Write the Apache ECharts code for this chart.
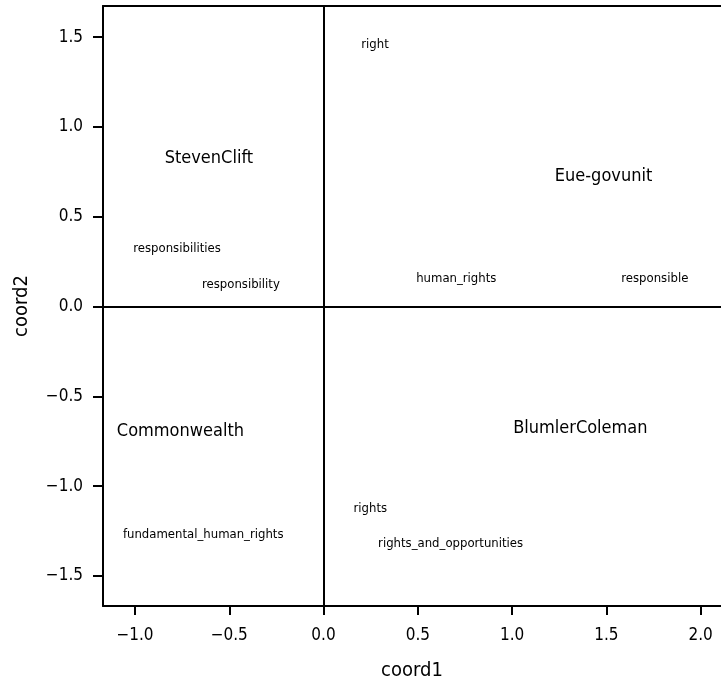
<!DOCTYPE html>
<html>
<head>
<meta charset="utf-8">
<script src="https://cdn.jsdelivr.net/npm/echarts@6/dist/echarts.min.js"></script>
<style>
html,body{margin:0;padding:0;background:#fff;}
#chart{width:721px;height:682px;}
</style>
</head>
<body>
<div id="chart"></div>
<script>
const docLabels = ['StevenClift', 'Eue-govunit', 'Commonwealth', 'BlumlerColeman'];
const docX = [-0.608, 1.485, -0.759, 1.362];
const docY = [0.828, 0.724, -0.696, -0.677];

const termLabels = ['right', 'responsibilities', 'responsibility', 'human_rights', 'responsible', 'rights', 'fundamental_human_rights', 'rights_and_opportunities'];
const termX = [0.273, -0.777, -0.438, 0.704, 1.757, 0.248, -0.638, 0.674];
const termY = [1.457, 0.321, 0.121, 0.158, 0.158, -1.126, -1.267, -1.318];

const xTicks = [-1.0, -0.5, 0.0, 0.5, 1.0, 1.5, 2.0];
const yTicks = [-1.5, -1.0, -0.5, 0.0, 0.5, 1.0, 1.5];

const FONT = '"Liberation Sans Narrow", "DejaVu Sans Condensed", sans-serif';
const fmt = v => (v < 0 ? '\u2212' : '') + Math.abs(v).toFixed(1);

const docData = docLabels.map((n, i) => ({ name: n, value: [docX[i], docY[i]] }));
const termData = termLabels.map((n, i) => ({ name: n, value: [termX[i], termY[i]] }));

function textRenderer(fontSize) {
  return function (params, api) {
    const pt = api.coord([api.value(0), api.value(1)]);
    const name = params.dataIndexInside != null ? params.data && params.data.name : '';
    return {
      type: 'text',
      x: pt[0], y: pt[1],
      style: {
        text: (params.seriesIndex === 0 ? docLabels : termLabels)[params.dataIndex],
        fill: '#000',
        font: fontSize + 'px ' + FONT,
        align: 'center',
        verticalAlign: 'middle'
      }
    };
  };
}

const chart = echarts.init(document.getElementById('chart'), null, { renderer: 'canvas' });
chart.setOption({
  animation: false,
  backgroundColor: '#fff',
  grid: { left: 103, top: 6, right: 0, bottom: 76, containLabel: false, outerBoundsMode: 'none' },
  xAxis: [{
    type: 'value', min: -1.1696, max: 2.108, position: 'bottom',
    name: 'coord1', nameLocation: 'middle', nameGap: 55,
    nameTextStyle: { fontFamily: FONT, fontSize: 20, color: '#000' },
    splitLine: { show: false },
    axisLine: { show: true, onZero: false, lineStyle: { color: '#000', width: 2 } },
    axisTick: { show: true, customValues: xTicks, length: 9, lineStyle: { color: '#000', width: 2 } },
    axisLabel: { show: true, customValues: xTicks, formatter: fmt, margin: 21, fontFamily: FONT, fontSize: 17, color: '#000' }
  }, {
    type: 'value', min: -1.1696, max: 2.108, position: 'top',
    splitLine: { show: false },
    axisLine: { show: true, onZero: false, lineStyle: { color: '#000', width: 2 } },
    axisTick: { show: false }, axisLabel: { show: false }
  }],
  yAxis: [{
    type: 'value', min: -1.667, max: 1.674,
    name: 'coord2', nameLocation: 'middle', nameGap: 71, nameRotate: 90,
    nameTextStyle: { fontFamily: FONT, fontSize: 20, color: '#000' },
    splitLine: { show: false },
    axisLine: { show: true, onZero: false, lineStyle: { color: '#000', width: 2 } },
    axisTick: { show: true, customValues: yTicks, length: 10, lineStyle: { color: '#000', width: 2 } },
    axisLabel: { show: true, customValues: yTicks, formatter: fmt, margin: 20, fontFamily: FONT, fontSize: 17, color: '#000' }
  }],
  series: [{
    type: 'custom',
    data: docData,
    renderItem: textRenderer(18),
    markLine: {
      silent: true, symbol: 'none', label: { show: false },
      lineStyle: { color: '#000', width: 2, type: 'solid' },
      data: [{ xAxis: 0 }, { yAxis: 0 }]
    },
    z: 3
  }, {
    type: 'custom',
    data: termData,
    renderItem: textRenderer(13),
    z: 3
  }]
});
</script>
</body>
</html>
